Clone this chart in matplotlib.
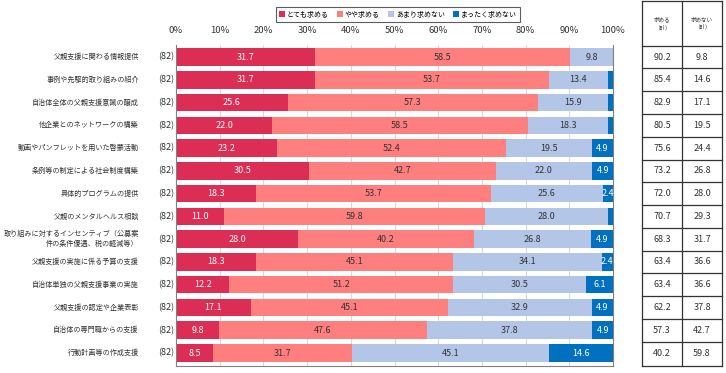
import numpy as np
import matplotlib
matplotlib.use('Agg')
import matplotlib.pyplot as plt
from matplotlib.patches import Patch

plt.rcParams['font.family'] = ['Noto Sans CJK JP', 'DejaVu Sans']

items = ['父親支援に関わる情報提供', '事例や先駆的取り組みの紹介', '自治体全体の父親支援意識の醸成',
         '他企業とのネットワークの構築', '動画やパンフレットを用いた啓蒙活動', '条例等の制定による社会制度構築',
         '具体的プログラムの提供', '父親のメンタルヘルス相談',
         '取り組みに対するインセンティブ（公募案\n件の条件優遇、税の軽減等）',
         '父親支援の実施に係る予算の支援', '自治体単独の父親支援事業の実施', '父親支援の認定や企業表彰',
         '自治体の専門職からの支援', '行動計画等の作成支援']
n_label = '(82)'
series_names = ['とても求める', 'やや求める', 'あまり求めない', 'まったく求めない']
very = [31.7, 31.7, 25.6, 22.0, 23.2, 30.5, 18.3, 11.0, 28.0, 18.3, 12.2, 17.1, 9.8, 8.5]
some = [58.5, 53.7, 57.3, 58.5, 52.4, 42.7, 53.7, 59.8, 40.2, 45.1, 51.2, 45.1, 47.6, 31.7]
little = [9.8, 13.4, 15.9, 18.3, 19.5, 22.0, 25.6, 28.0, 26.8, 34.1, 30.5, 32.9, 37.8, 45.1]
none_ = [0.0, 1.2, 1.2, 1.2, 4.9, 4.9, 2.4, 1.2, 4.9, 2.4, 6.1, 4.9, 4.9, 14.6]
want_total = [90.2, 85.4, 82.9, 80.5, 75.6, 73.2, 72.0, 70.7, 68.3, 63.4, 63.4, 62.2, 57.3, 40.2]
not_total = [9.8, 14.6, 17.1, 19.5, 24.4, 26.8, 28.0, 29.3, 31.7, 36.6, 36.6, 37.8, 42.7, 59.8]
table_headers = ['求める\n（計）', '求めない\n（計）']

colors = ['#DC2D55', '#FF7F7F', '#B4C6E7', '#0070C0']
text_colors = ['white', '#333333', '#333333', 'white']

W, H = 726, 373
fig = plt.figure(figsize=(W / 100, H / 100), dpi=100)
ax = fig.add_axes([176 / W, 1 - 366 / H, 437 / W, 321 / H])

y = np.arange(len(items))
left = np.zeros(len(items))
for vals, c, tc in zip([very, some, little, none_], colors, text_colors):
    vals = np.array(vals)
    ax.barh(y, vals, left=left, height=0.77, color=c, zorder=2)
    for yi, v, l in zip(y, vals, left):
        if v >= 2.4:
            ax.text(l + v / 2, yi, f'{v:.1f}', ha='center', va='center',
                    fontsize=6.5, color=tc, zorder=3)
    left += vals

ax.set_xlim(0, 100)
ax.set_ylim(13.57, -0.53)
ax.xaxis.tick_top()
ax.set_xticks(np.arange(0, 101, 10))
ax.set_xticklabels([f'{t}%' for t in range(0, 101, 10)], fontsize=6.8, color='#333333')
ax.tick_params(axis='x', length=0, pad=7)
ax.set_yticks([])
ax.grid(axis='x', color='#D9D9D9', linewidth=0.8, zorder=0)
for s in ax.spines.values():
    s.set_color('#808080')
    s.set_linewidth(0.8)
ax.spines['top'].set_visible(False)

for yi, lab in zip(y, items):
    ax.text(-8.5, yi, lab, ha='right', va='center', fontsize=5.1, color='#333333',
            multialignment='right', linespacing=1.35, clip_on=False)
    ax.text(-2.3, yi, n_label, ha='center', va='center', fontsize=6.5, color='#333333',
            clip_on=False)

# summary table on the right
tax = fig.add_axes([642 / W, 1 - 366 / H, 80 / W, 321 / H], sharey=ax)
tax.set_xlim(0, 2)
tax.axis('off')
head_top = -2.45
lc = '#333333'
for x in [0, 1, 2]:
    tax.plot([x, x], [head_top, 13.57], color=lc, lw=0.9, clip_on=False)
for yb in [head_top] + list(np.arange(-0.5, 13.0, 1.0)) + [13.57]:
    tax.plot([0, 2], [yb, yb], color=lc, lw=0.9, clip_on=False)
for j, h in enumerate(table_headers):
    tax.text(j + 0.5, (head_top - 0.5) / 2, h, ha='center', va='center', fontsize=4.0,
             color='#333333', linespacing=1.4, clip_on=False)
for yi, a, b in zip(y, want_total, not_total):
    tax.text(0.5, yi, f'{a:.1f}', ha='center', va='center', fontsize=6.5, color='#333333')
    tax.text(1.5, yi, f'{b:.1f}', ha='center', va='center', fontsize=6.5, color='#333333')

handles = [Patch(facecolor=c, edgecolor='none') for c in colors]
leg = fig.legend(handles, series_names, loc='center', bbox_to_anchor=(398 / W, 1 - 14.5 / H),
                 ncol=4, fontsize=5.0, frameon=True, fancybox=False, handlelength=0.8,
                 handleheight=0.8, handletextpad=0.3, columnspacing=1.2,
                 borderpad=0.5, borderaxespad=0)
leg.get_frame().set_edgecolor('#333333')
leg.get_frame().set_linewidth(0.8)

fig.savefig('out.png', dpi=100)
